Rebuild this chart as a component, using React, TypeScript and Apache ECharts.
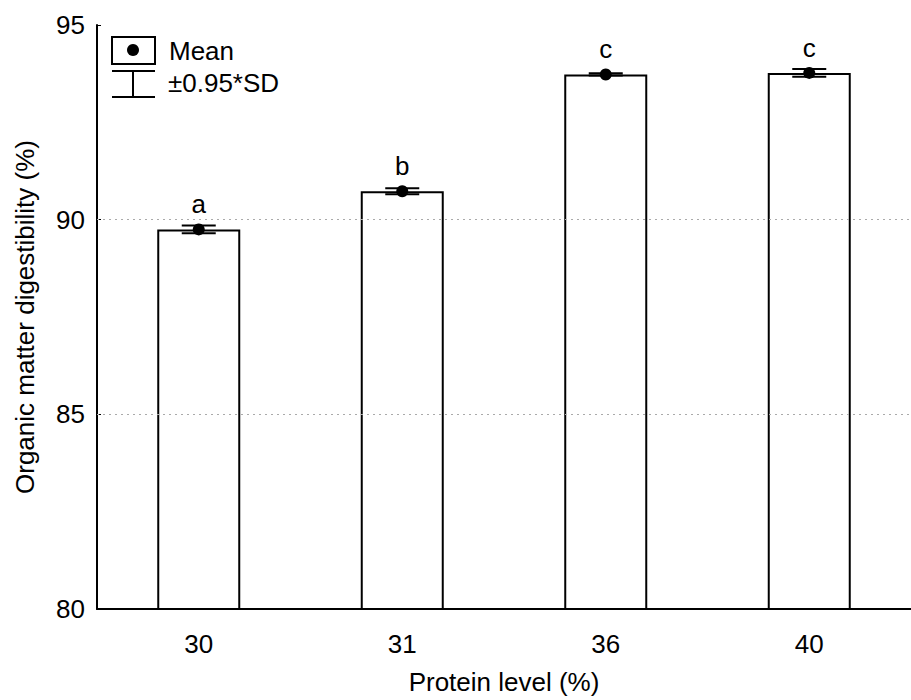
import React, { useEffect, useRef } from "react";
import * as echarts from "echarts";

const categories = ["30", "31", "36", "40"];
const means = [89.75, 90.73, 93.73, 93.77];
const errors = [0.1, 0.08, 0.03, 0.1];
const letters = ["a", "b", "c", "c"];
const yTicks = { min: 80, max: 95, interval: 5 };
const gridValues = [85, 90];

const FONT = "Liberation Sans, Arial, sans-serif";
const FS = 26;

export default function App() {
  const ref = useRef<HTMLDivElement>(null);
  useEffect(() => {
    document.body.style.margin = "0";
    const chart = echarts.init(ref.current!, null, { renderer: "svg" });
    const errData = categories.map((c, i) => [i, means[i], means[i] - errors[i], means[i] + errors[i]]);
    chart.setOption({
      animation: false,
      backgroundColor: "#fff",
      textStyle: { fontFamily: FONT },
      grid: { left: 97, top: 25, bottom: 89, width: 824 },
      xAxis: {
        type: "category",
        data: categories,
        name: "Protein level (%)",
        nameLocation: "middle",
        nameGap: 60,
        nameTextStyle: { fontSize: FS, color: "#000", fontFamily: FONT },
        axisLine: { lineStyle: { color: "#000", width: 2 } },
        axisTick: { inside: true, length: 4, alignWithLabel: true, lineStyle: { color: "#000", width: 1 } },
        axisLabel: { fontSize: FS, color: "#000", margin: 22, fontFamily: FONT },
        splitLine: { show: false },
      },
      yAxis: {
        type: "value",
        min: yTicks.min,
        max: yTicks.max,
        interval: yTicks.interval,
        name: "Organic matter digestibility (%)",
        nameLocation: "middle",
        nameGap: 59,
        nameTextStyle: { fontSize: FS, color: "#000", fontFamily: FONT },
        axisLine: { show: true, lineStyle: { color: "#000", width: 2 } },
        axisTick: { show: true, inside: true, length: 4, lineStyle: { color: "#000", width: 1 } },
        axisLabel: { fontSize: FS, color: "#000", margin: 12, fontFamily: FONT },
        splitLine: { show: false },
      },
      series: [
        {
          type: "bar",
          data: means.map((m, i) => ({ value: m, label: { formatter: letters[i] } })),
          barWidth: 83,
          itemStyle: { color: "#fff", borderColor: "#000", borderWidth: 2 },
          label: {
            show: true,
            position: "top",
            distance: 12,
            fontSize: FS,
            color: "#000",
            fontFamily: FONT,
          },
          markLine: {
            silent: true,
            symbol: "none",
            label: { show: false },
            lineStyle: { color: "#aaa", type: [2, 4], width: 1 },
            data: gridValues.map((v) => ({ yAxis: v })),
          },
          z: 2,
        },
        {
          type: "custom",
          data: errData,
          z: 5,
          renderItem: (params: any, api: any) => {
            const x = api.value(0);
            const p = api.coord([x, api.value(1)]);
            const lo = api.coord([x, api.value(2)]);
            const hi = api.coord([x, api.value(3)]);
            const hw = 17;
            const st = { stroke: "#000", lineWidth: 2 };
            return {
              type: "group",
              children: [
                { type: "line", shape: { x1: p[0], y1: lo[1], x2: p[0], y2: hi[1] }, style: st },
                { type: "line", shape: { x1: p[0] - hw, y1: lo[1], x2: p[0] + hw, y2: lo[1] }, style: st },
                { type: "line", shape: { x1: p[0] - hw, y1: hi[1], x2: p[0] + hw, y2: hi[1] }, style: st },
                { type: "circle", shape: { cx: p[0], cy: p[1], r: 6 }, style: { fill: "#000" } },
              ],
            };
          },
        },
      ],
      graphic: [
        { type: "rect", shape: { x: 112, y: 37, width: 43, height: 27 }, style: { fill: "#fff", stroke: "#000", lineWidth: 2 } },
        { type: "circle", shape: { cx: 133, cy: 50, r: 6 }, style: { fill: "#000" } },
        { type: "text", x: 169, y: 51, style: { text: "Mean", fontSize: FS, fill: "#000", fontFamily: FONT, verticalAlign: "middle" } },
        { type: "line", shape: { x1: 112, y1: 71, x2: 155, y2: 71 }, style: { stroke: "#000", lineWidth: 2 } },
        { type: "line", shape: { x1: 112, y1: 97, x2: 155, y2: 97 }, style: { stroke: "#000", lineWidth: 2 } },
        { type: "line", shape: { x1: 133, y1: 71, x2: 133, y2: 97 }, style: { stroke: "#000", lineWidth: 2 } },
        { type: "text", x: 168, y: 83, style: { text: "±0.95*SD", fontSize: FS, fill: "#000", fontFamily: FONT, verticalAlign: "middle" } },
      ],
    });
    return () => chart.dispose();
  }, []);
  return <div ref={ref} style={{ width: 911, height: 700 }} />;
}
